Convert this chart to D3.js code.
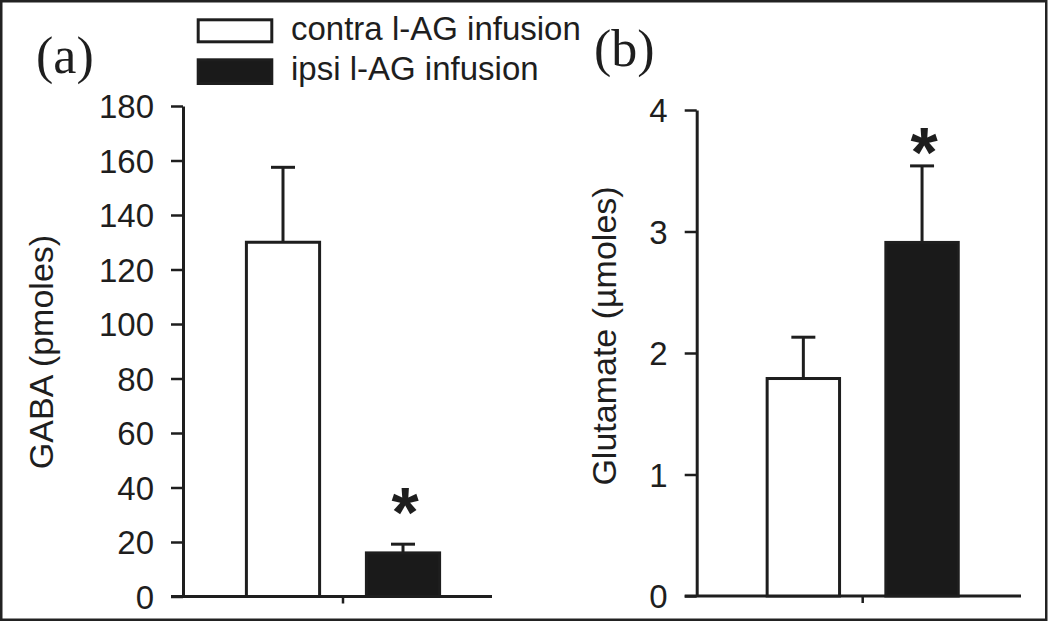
<!DOCTYPE html>
<html>
<head>
<meta charset="utf-8">
<script src="https://cdn.jsdelivr.net/npm/d3@7"></script>
<style>
  html, body { margin: 0; padding: 0; background: #fff; }
  svg text { font-family: "Liberation Sans", Arial, sans-serif; fill: #1e1e1e; }
</style>
</head>
<body>
<svg id="chart" width="1050" height="621"></svg>
<script>
// ---- Data ----
const groups = ["contra l-AG infusion", "ipsi l-AG infusion"];
const groupFills = ["#ffffff", "#1a1a1a"];

const gabaMeans = [130, 16];
const gabaErrTops = [157.5, 19.2];
const gabaTicks = [0, 20, 40, 60, 80, 100, 120, 140, 160, 180];
const gabaSignificant = [false, true];

const gluMeans = [1.79, 2.91];
const gluErrTops = [2.13, 3.54];
const gluTicks = [0, 1, 2, 3, 4];
const gluSignificant = [false, true];

// ---- Drawing ----
const svg = d3.select("#chart");
const ink = "#1e1e1e";

// outer frame
svg.append("rect")
  .attr("x", 1.25).attr("y", 1.25)
  .attr("width", 1045).attr("height", 618.5)
  .attr("fill", "none").attr("stroke", "#222").attr("stroke-width", 2.5);

function panel(cfg) {
  const g = svg.append("g");
  const y = d3.scaleLinear().domain(cfg.domain).range([cfg.y0, cfg.y1]);
  const x = d3.scaleBand().domain(groups).range(cfg.xRange).padding(0);
  const barW = x.bandwidth() * 0.61;

  // y axis
  const ax = d3.axisLeft(y).tickValues(cfg.ticks).tickFormat(d3.format("d"))
    .tickSize(12).tickSizeOuter(0).tickPadding(17);
  const axG = g.append("g").attr("transform", `translate(${cfg.axisX},0)`).call(ax);
  axG.select(".domain").attr("stroke", ink).attr("stroke-width", 3);
  axG.selectAll(".tick line").attr("stroke", ink).attr("stroke-width", 2.5);
  axG.selectAll(".tick text")
    .attr("font-size", 33).attr("fill", ink)
    .attr("font-family", "Liberation Sans, Arial, sans-serif")
    .attr("dy", "0.36em");

  // x baseline
  g.append("line")
    .attr("x1", cfg.axisX - 12).attr("x2", cfg.baseEnd)
    .attr("y1", y(0)).attr("y2", y(0))
    .attr("stroke", ink).attr("stroke-width", 3);
  // center tick
  const mid = (x(groups[0]) + x(groups[1]) + x.bandwidth()) / 2;
  g.append("line")
    .attr("x1", mid).attr("x2", mid)
    .attr("y1", y(0)).attr("y2", y(0) + 7)
    .attr("stroke", ink).attr("stroke-width", 2.5);

  // bars
  groups.forEach((grp, i) => {
    const cx = x(grp) + x.bandwidth() / 2;
    g.append("line")
      .attr("x1", cx).attr("x2", cx)
      .attr("y1", y(cfg.means[i])).attr("y2", y(cfg.errTops[i]))
      .attr("stroke", ink).attr("stroke-width", 3);
    g.append("line")
      .attr("x1", cx - 12).attr("x2", cx + 12)
      .attr("y1", y(cfg.errTops[i])).attr("y2", y(cfg.errTops[i]))
      .attr("stroke", ink).attr("stroke-width", 3);
    g.append("rect")
      .attr("x", cx - barW / 2).attr("width", barW)
      .attr("y", y(cfg.means[i])).attr("height", y(0) - y(cfg.means[i]))
      .attr("fill", groupFills[i]).attr("stroke", ink).attr("stroke-width", 3);
    if (cfg.sig[i]) {
      g.append("text")
        .attr("x", cx + 2).attr("y", y(cfg.errTops[i]) - cfg.starGap)
        .attr("text-anchor", "middle")
        .attr("font-size", 70).attr("font-weight", "bold")
        .attr("fill", "#2a2a2a")
        .text("*");
    }
  });

  // y title
  g.append("text")
    .attr("transform", `translate(${cfg.titleX},${cfg.titleY}) rotate(-90)`)
    .attr("text-anchor", "middle")
    .attr("font-size", 34).attr("fill", ink)
    .text(cfg.title);

  // panel label
  g.append("text")
    .attr("x", cfg.labelX).attr("y", cfg.labelY)
    .attr("font-size", 52).attr("fill", ink)
    .style("font-family", "'Liberation Serif', 'Times New Roman', serif")
    .text(cfg.label);
}

panel({
  domain: [0, 180], y0: 596.5, y1: 106, ticks: gabaTicks,
  xRange: [223, 463], axisX: 183, baseEnd: 492,
  means: gabaMeans, errTops: gabaErrTops, sig: gabaSignificant, starGap: 7,
  title: "GABA (pmoles)", titleX: 53, titleY: 352,
  label: "(a)", labelX: 36, labelY: 73
});

panel({
  domain: [0, 4], y0: 596, y1: 110, ticks: gluTicks,
  xRange: [744, 981.4], axisX: 696.7, baseEnd: 1021,
  means: gluMeans, errTops: gluErrTops, sig: gluSignificant, starGap: -11,
  title: "Glutamate (µmoles)", titleX: 616, titleY: 336,
  label: "(b)", labelX: 594, labelY: 66
});

// legend
const legend = svg.append("g");
groups.forEach((grp, i) => {
  const top = i === 0 ? 19.8 : 59.8;
  legend.append("rect")
    .attr("x", 198.2).attr("y", top)
    .attr("width", 73.6).attr("height", i === 0 ? 22 : 23.7)
    .attr("fill", groupFills[i]).attr("stroke", ink).attr("stroke-width", 3);
  legend.append("text")
    .attr("x", 291).attr("y", i === 0 ? 39.5 : 80)
    .attr("font-size", 33).attr("fill", ink)
    .text(grp);
});
</script>
</body>
</html>
